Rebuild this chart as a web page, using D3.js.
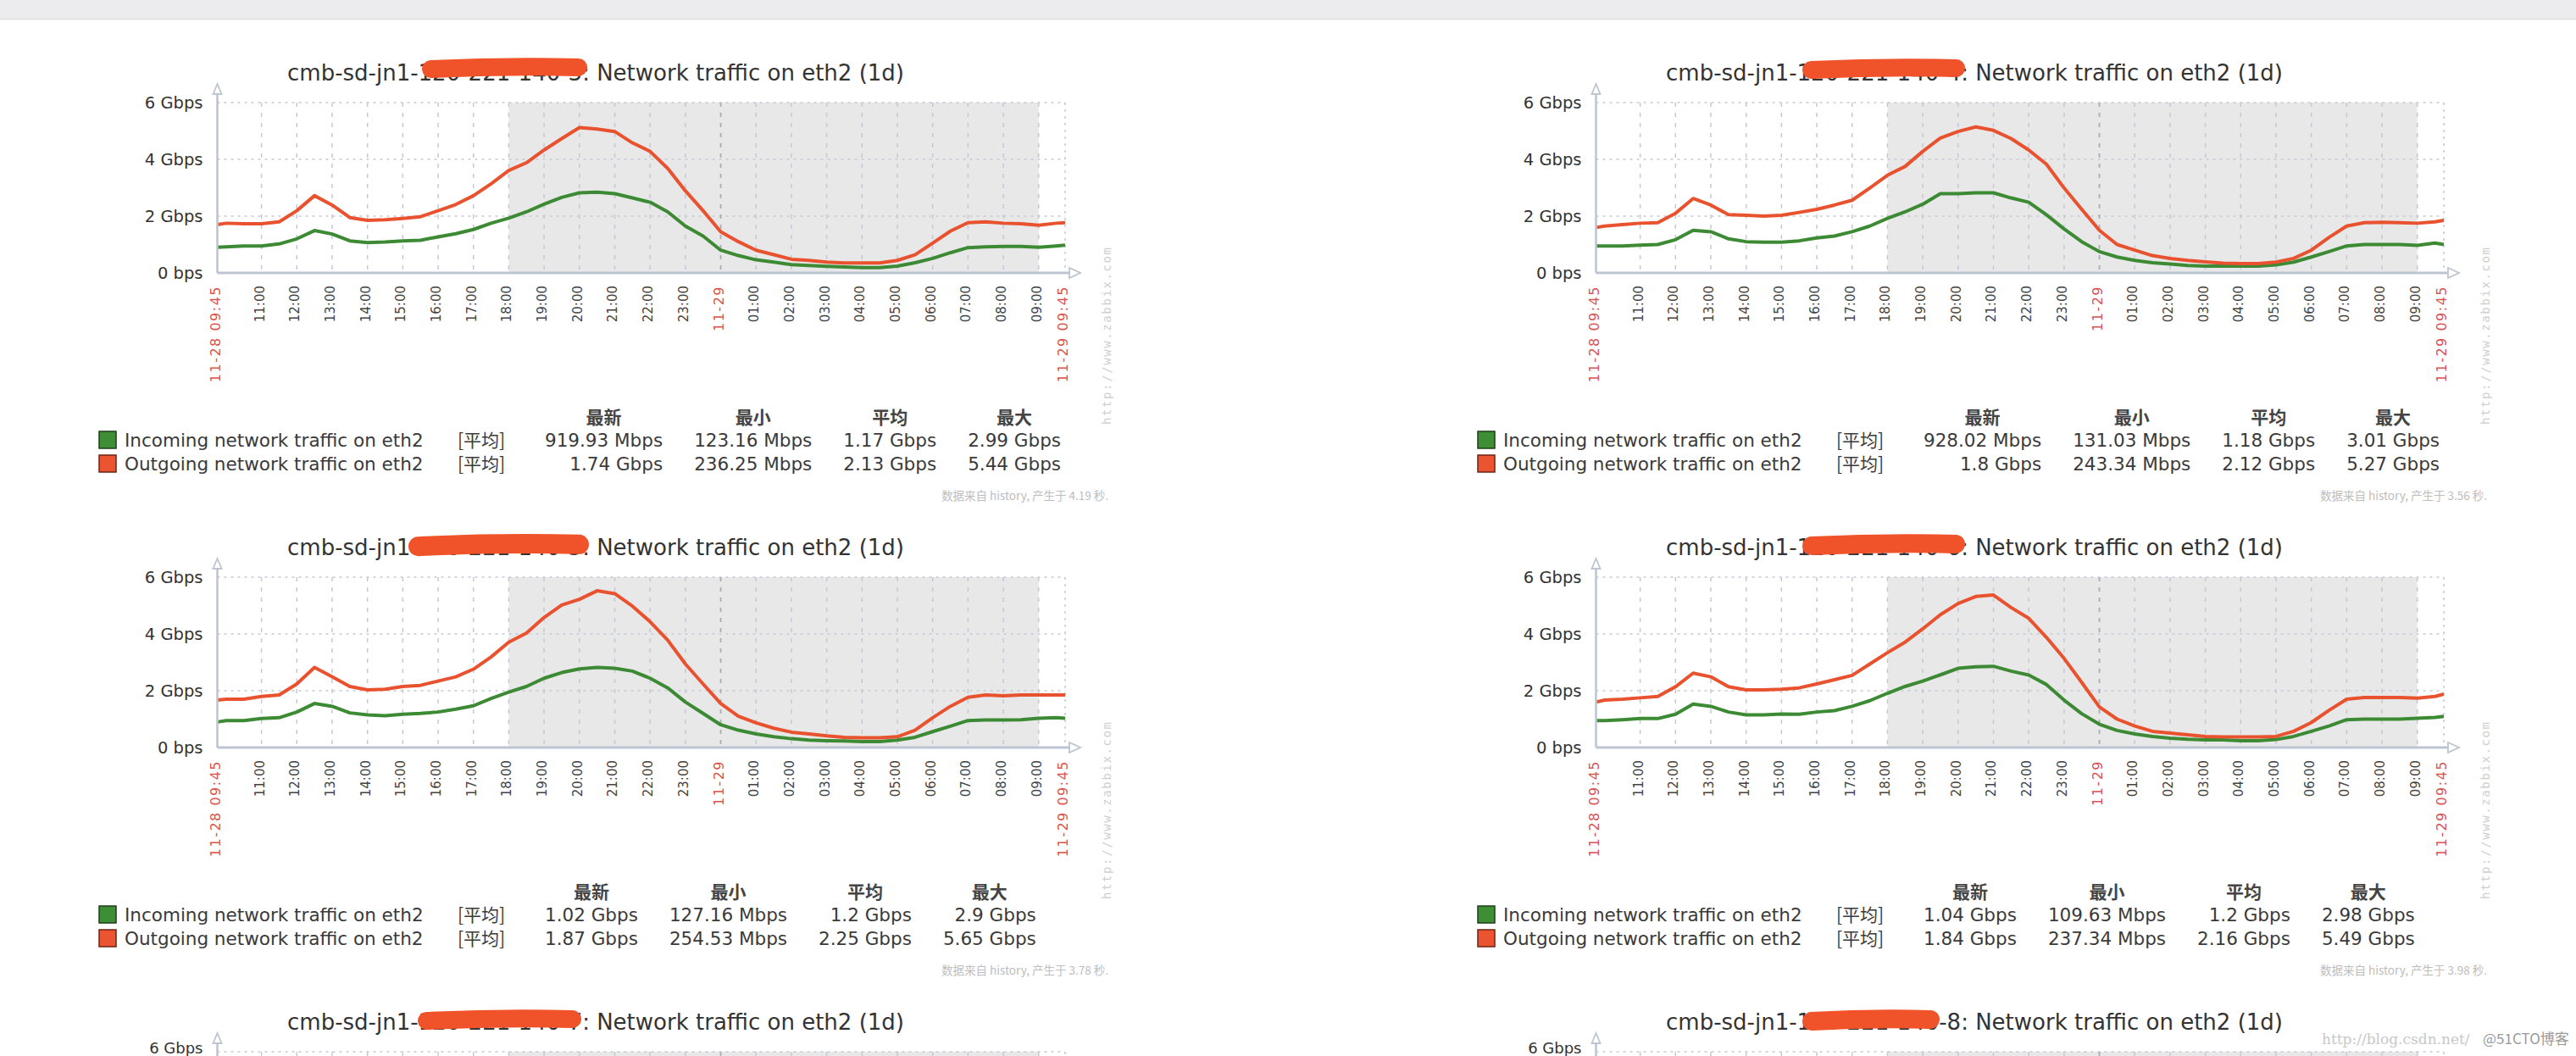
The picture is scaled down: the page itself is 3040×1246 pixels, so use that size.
<!DOCTYPE html>
<html><head><meta charset="utf-8">
<script src="https://cdn.jsdelivr.net/npm/d3@7"></script>
<style>html,body{margin:0;padding:0;background:#fff;overflow:hidden}</style>
</head><body><svg id="c" width="3040" height="1246"></svg>
<script>
// ---- data ----
// sample times: hours since 11-28 00:00 (09:45 .. next day 09:45)
const times = [9.75,10,10.5,11,11.5,12,12.5,13,13.5,14,14.5,15,15.5,16,16.5,17,17.5,18,18.5,19,19.5,20,20.5,21,21.5,22,22.5,23,23.5,24,24.5,25,25.5,26,26.5,27,27.5,28,28.5,29,29.5,30,30.5,31,31.5,32,32.5,33,33.5,33.75];
const tickHours = [11,12,13,14,15,16,17,18,19,20,21,22,23,24,25,26,27,28,29,30,31,32,33];
const tickLabels = ["11:00","12:00","13:00","14:00","15:00","16:00","17:00","18:00","19:00","20:00","21:00","22:00","23:00","11-29","01:00","02:00","03:00","04:00","05:00","06:00","07:00","08:00","09:00"];
const startLabel = "11-28 09:45", endLabel = "11-29 09:45";
const yTicks = [0,2,4,6];
const yTickLabels = ["0 bps","2 Gbps","4 Gbps","6 Gbps"];
const hosts = ["cmb-sd-jn1-120-221-140-3","cmb-sd-jn1-120-221-140-4","cmb-sd-jn1-120-221-140-5","cmb-sd-jn1-120-221-140-6","cmb-sd-jn1-120-221-140-7","cmb-sd-jn1-120-221-140-8"];
const seriesNames = ["Incoming network traffic on eth2","Outgoing network traffic on eth2"];
const statHeaders = ["最新","最小","平均","最大"];

// Gbps
const in3  = [0.90,0.92,0.95,0.95,1.02,1.20,1.49,1.37,1.13,1.07,1.09,1.13,1.15,1.27,1.38,1.53,1.75,1.93,2.15,2.42,2.66,2.82,2.84,2.79,2.64,2.49,2.15,1.65,1.30,0.80,0.61,0.46,0.38,0.29,0.26,0.23,0.21,0.19,0.19,0.24,0.36,0.51,0.71,0.89,0.92,0.93,0.93,0.90,0.95,0.98];
const out3 = [1.70,1.75,1.73,1.73,1.80,2.19,2.72,2.39,1.95,1.85,1.87,1.92,1.98,2.19,2.41,2.72,3.14,3.61,3.88,4.33,4.73,5.12,5.07,4.98,4.58,4.28,3.68,2.89,2.19,1.45,1.10,0.80,0.64,0.48,0.44,0.38,0.35,0.35,0.35,0.44,0.64,1.05,1.47,1.77,1.80,1.75,1.73,1.68,1.75,1.77];
const in4  = [0.95,0.95,0.95,0.98,1.00,1.17,1.50,1.45,1.20,1.10,1.08,1.08,1.13,1.23,1.30,1.45,1.65,1.92,2.15,2.42,2.79,2.79,2.82,2.82,2.64,2.49,2.05,1.55,1.10,0.75,0.56,0.44,0.36,0.31,0.26,0.24,0.24,0.24,0.24,0.28,0.38,0.56,0.75,0.95,1.00,1.00,1.00,0.97,1.05,1.00];
const out4 = [1.60,1.65,1.70,1.75,1.77,2.10,2.62,2.39,2.05,2.03,2.00,2.03,2.13,2.24,2.39,2.56,2.99,3.44,3.75,4.28,4.75,4.98,5.14,5.02,4.73,4.33,3.83,2.99,2.24,1.50,1.00,0.80,0.61,0.51,0.44,0.39,0.34,0.33,0.33,0.38,0.51,0.80,1.25,1.65,1.77,1.78,1.77,1.75,1.80,1.85];
const in5  = [0.90,0.95,0.95,1.02,1.05,1.25,1.55,1.45,1.22,1.15,1.12,1.17,1.20,1.25,1.35,1.47,1.73,1.95,2.15,2.44,2.64,2.77,2.82,2.79,2.69,2.44,2.10,1.60,1.20,0.80,0.61,0.48,0.38,0.31,0.26,0.24,0.23,0.21,0.21,0.26,0.36,0.56,0.75,0.95,0.97,0.97,0.98,1.03,1.05,1.03];
const out5 = [1.67,1.70,1.70,1.80,1.85,2.24,2.82,2.49,2.15,2.03,2.05,2.15,2.19,2.34,2.49,2.76,3.19,3.71,4.03,4.58,5.02,5.22,5.52,5.42,4.98,4.43,3.78,2.94,2.24,1.55,1.10,0.87,0.68,0.54,0.48,0.41,0.36,0.34,0.34,0.38,0.61,1.05,1.45,1.77,1.85,1.82,1.85,1.85,1.85,1.85];
const in6  = [0.95,0.95,0.98,1.02,1.02,1.17,1.53,1.45,1.25,1.15,1.15,1.18,1.17,1.25,1.30,1.45,1.65,1.91,2.15,2.34,2.56,2.79,2.84,2.86,2.69,2.55,2.22,1.67,1.19,0.82,0.60,0.48,0.39,0.33,0.29,0.27,0.27,0.24,0.24,0.28,0.39,0.57,0.76,0.98,1.00,1.00,1.00,1.03,1.06,1.10];
const out6 = [1.60,1.67,1.70,1.75,1.80,2.14,2.62,2.49,2.14,2.03,2.03,2.05,2.10,2.24,2.39,2.54,2.94,3.34,3.71,4.18,4.68,5.07,5.32,5.37,4.93,4.55,3.88,3.14,2.29,1.43,1.00,0.76,0.57,0.51,0.45,0.39,0.37,0.37,0.37,0.39,0.57,0.88,1.31,1.70,1.76,1.76,1.76,1.74,1.80,1.88];

// legend statistics [最新, 最小, 平均, 最大]
const statsIn3  = ["919.93 Mbps","123.16 Mbps","1.17 Gbps","2.99 Gbps"];
const statsOut3 = ["1.74 Gbps","236.25 Mbps","2.13 Gbps","5.44 Gbps"];
const statsIn4  = ["928.02 Mbps","131.03 Mbps","1.18 Gbps","3.01 Gbps"];
const statsOut4 = ["1.8 Gbps","243.34 Mbps","2.12 Gbps","5.27 Gbps"];
const statsIn5  = ["1.02 Gbps","127.16 Mbps","1.2 Gbps","2.9 Gbps"];
const statsOut5 = ["1.87 Gbps","254.53 Mbps","2.25 Gbps","5.65 Gbps"];
const statsIn6  = ["1.04 Gbps","109.63 Mbps","1.2 Gbps","2.98 Gbps"];
const statsOut6 = ["1.84 Gbps","237.34 Mbps","2.16 Gbps","5.49 Gbps"];
const genTimes = ["4.19","3.56","3.78","3.98"];

// ---- layout ----
const W = 3040, H = 1246;
const svg = d3.select("#c");
const FONT = "'DejaVu Sans', sans-serif";
const CJK = "'Noto Sans CJK SC', 'DejaVu Sans', sans-serif";
const COL_IN = "#3c8a33", COL_OUT = "#e9522e";
const AXIS = "#bcc5d1", GRID = "#c4c9d4";

svg.append("rect").attr("x",0).attr("y",0).attr("width",W).attr("height",22).attr("fill","#ececee");
svg.append("line").attr("x1",0).attr("x2",W).attr("y1",22.5).attr("y2",22.5).attr("stroke","#dcdcdf").attr("stroke-width",1.5);

const panels = [
  {host:hosts[0], inc:in3, out:out3, sIn:statsIn3, sOut:statsOut3, gen:genTimes[0]},
  {host:hosts[1], inc:in4, out:out4, sIn:statsIn4, sOut:statsOut4, gen:genTimes[1]},
  {host:hosts[2], inc:in5, out:out5, sIn:statsIn5, sOut:statsOut5, gen:genTimes[2]},
  {host:hosts[3], inc:in6, out:out6, sIn:statsIn6, sOut:statsOut6, gen:genTimes[3]},
  {host:hosts[4], partial:true},
  {host:hosts[5], partial:true}
];
const offsets = [[0,0],[1627,0],[0,560],[1627,560],[0,1120],[1627,1120]];
const blobs = [[498,693,70,91],[500,692,71,92],[482,695,72,95],[500,692,72,94],[493,686,73,94],[500,662,73,95]];

const x = d3.scaleLinear().domain([9.75,33.75]).range([256.5,1257]);
const y = d3.scaleLinear().domain([0,6]).range([322,121]);

const measurer = svg.append("text").attr("font-family",FONT).attr("font-size",21.5).attr("x",-1000).attr("y",-1000);
function textW(s){ measurer.text(s); return measurer.node().getComputedTextLength(); }

panels.forEach((p,i)=>{
  const [ox,oy] = offsets[i];
  const g = svg.append("g").attr("transform",`translate(${ox},${oy})`);

  // shaded non-working period
  g.append("rect").attr("x",x(18)).attr("y",y(6)).attr("width",x(33)-x(18)).attr("height",y(0)-y(6)).attr("fill","#e8e8e9");

  // horizontal grid
  g.selectAll(".hg").data([2,4,6]).join("line")
    .attr("x1",x(9.75)).attr("x2",x(33.75)).attr("y1",d=>y(d)).attr("y2",d=>y(d))
    .attr("stroke",GRID).attr("stroke-width",1.6).attr("stroke-dasharray","3,5");
  // vertical grid
  g.selectAll(".vg").data(tickHours.concat([33.75])).join("line")
    .attr("x1",d=>x(d)).attr("x2",d=>x(d)).attr("y1",y(6)).attr("y2",y(0))
    .attr("stroke",d=>d===24?"#a9adb8":GRID).attr("stroke-width",d=>d===24?1.8:1.5)
    .attr("stroke-dasharray",d=>d===33.75?"3,5":"5,7");

  // series
  if(!p.partial){
    const line = d3.line().x((d,k)=>x(times[k])).y(d=>y(d)).curve(d3.curveLinear);
    g.append("path").datum(p.inc).attr("d",line).attr("fill","none").attr("stroke",COL_IN).attr("stroke-width",4).attr("stroke-linejoin","round");
    g.append("path").datum(p.out).attr("d",line).attr("fill","none").attr("stroke",COL_OUT).attr("stroke-width",4).attr("stroke-linejoin","round");
  }

  // axis lines & arrows
  g.append("line").attr("x1",x(9.75)).attr("x2",x(9.75)).attr("y1",110).attr("y2",y(0)).attr("stroke",AXIS).attr("stroke-width",2.5);
  g.append("path").attr("d",`M${x(9.75)-5},111 L${x(9.75)},99 L${x(9.75)+5},111 Z`).attr("fill","#fff").attr("stroke",AXIS).attr("stroke-width",1.8);
  if(!p.partial){
    g.append("line").attr("x1",x(9.75)).attr("x2",1262).attr("y1",y(0)).attr("y2",y(0)).attr("stroke",AXIS).attr("stroke-width",3);
    g.append("path").attr("d",`M1262,${y(0)-6} L1275,${y(0)} L1262,${y(0)+6} Z`).attr("fill","#fff").attr("stroke",AXIS).attr("stroke-width",1.8);
  }

  // y axis labels
  const yAxis = d3.axisLeft(y).tickValues(p.partial?[6]:yTicks).tickSize(0).tickPadding(17)
    .tickFormat(d=>yTickLabels[yTicks.indexOf(d)]);
  const ya = g.append("g").attr("transform",`translate(${x(9.75)},0)`).call(yAxis);
  ya.select(".domain").remove();
  ya.selectAll("text").attr("font-family",FONT).attr("font-size",p.partial?18:19.5).attr("fill","#333")
    .attr("dy",p.partial?"0.1em":"0.32em");

  if(!p.partial){
    // x axis labels
    const xTicks = [9.75].concat(tickHours, [33.75]);
    const xLabels = [startLabel].concat(tickLabels,[endLabel]);
    const xAxis = d3.axisBottom(x).tickValues(xTicks).tickSize(0).tickFormat(d=>xLabels[xTicks.indexOf(d)]);
    const xa = g.append("g").attr("transform",`translate(0,${y(0)})`).call(xAxis);
    xa.select(".domain").remove();
    xa.selectAll("text")
      .attr("transform","rotate(-90)").attr("text-anchor","end")
      .attr("x",-15).attr("y",-3).attr("dy","0.36em")
      .attr("font-family",FONT)
      .each(function(d){
        const red = (d===9.75||d===24||d===33.75);
        d3.select(this).attr("fill",red?"#d9534f":"#444")
          .attr("font-size",red?16:15).attr("letter-spacing",red?"1.5px":"0px");
      });

    // legend
    const lg = g.append("g");
    [p.sIn,p.sOut].forEach((st,r)=>{
      const by = 527 + r*28;
      lg.append("rect").attr("x",117).attr("y",by-18).attr("width",20).attr("height",20)
        .attr("fill",r===0?"#3e8e36":"#ea5431").attr("stroke",r===0?"#1e3d1b":"#6b2414").attr("stroke-width",1.5);
      lg.append("text").attr("x",147).attr("y",by).attr("font-family",FONT).attr("font-size",21.5).attr("fill","#3a3a3a").text(seriesNames[r]);
      lg.append("text").attr("x",540).attr("y",by).attr("font-family",CJK).attr("font-size",21).attr("fill","#3a3a3a").text("[平均]");
    });
    let cx = 643;
    statHeaders.forEach((h,c)=>{
      const w = Math.max(textW(p.sIn[c]), textW(p.sOut[c]));
      const right = cx + w;
      lg.append("text").attr("x",cx+w/2).attr("y",500).attr("text-anchor","middle")
        .attr("font-family",CJK).attr("font-size",21).attr("font-weight","bold").attr("fill","#444").text(h);
      [p.sIn[c],p.sOut[c]].forEach((v,r)=>{
        lg.append("text").attr("x",right).attr("y",527+r*28).attr("text-anchor","end")
          .attr("font-family",FONT).attr("font-size",21.5).attr("fill","#3a3a3a").text(v);
      });
      cx = right + 37;
    });
    // footer
    g.append("text").attr("x",1308).attr("y",590).attr("text-anchor","end")
      .attr("font-family",CJK).attr("font-size",13.5).attr("fill","#bdbdbd")
      .text(`数据来自 history, 产生于 ${p.gen} 秒.`);
    // vertical watermark
    g.append("text").attr("transform","translate(1311,501) rotate(-90)")
      .attr("font-family","'DejaVu Sans Mono', monospace").attr("font-size",14).attr("letter-spacing","1.6px")
      .attr("fill","#cfcfcf").text("http://www.zabbix.com");
  }

  // title
  g.append("text").attr("x",703).attr("y",95).attr("text-anchor","middle")
    .attr("font-family",FONT).attr("font-size",26).attr("fill","#333")
    .text(`${p.host}: Network traffic on eth2 (1d)`);
  // red redaction scribble
  const [bx1,bx2,by1,by2] = blobs[i];
  const bh = by2-by1;
  g.append("path")
    .attr("d",`M${bx1+bh/2},${by1+bh*0.55} Q${(bx1+bx2)/2},${by1+bh*0.35} ${bx2-bh/2},${by1+bh*0.45}`)
    .attr("fill","none").attr("stroke","#f0532a").attr("stroke-width",bh).attr("stroke-linecap","round");
});
measurer.remove();

// page watermark
svg.append("text").attr("x",2740).attr("y",1232).attr("font-family","'DejaVu Serif', serif").attr("font-size",17)
  .attr("fill","#c8c8c8").text("http://blog.csdn.net/");
svg.append("text").attr("x",2930).attr("y",1232).attr("font-family",CJK).attr("font-size",17)
  .attr("fill","#9a9a9a").text("@51CTO博客");
</script>
</body></html>
